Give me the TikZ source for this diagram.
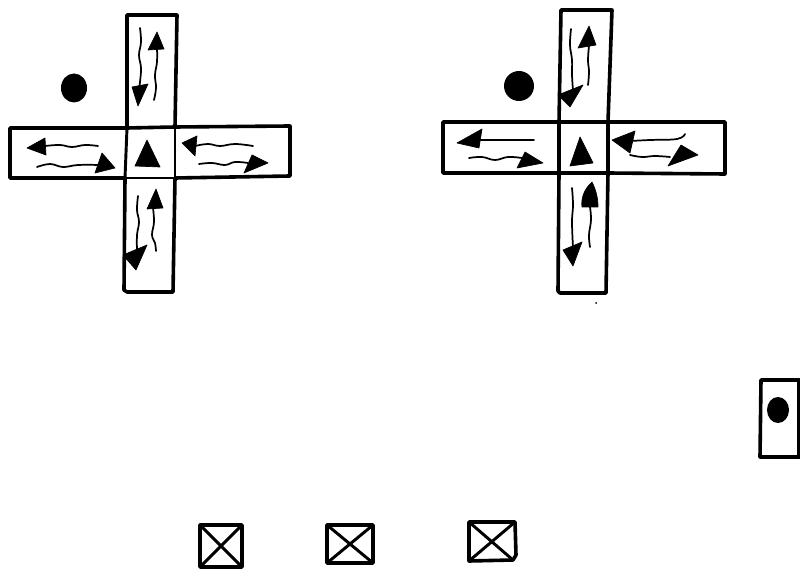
\documentclass[tikz,border=0pt]{standalone}
\tikzset{
  ink/.style={draw=black,line width=2.7pt,line cap=round,line join=round},
  cross ink/.style={draw=black,line width=2.2pt,line join=round},
  wave/.style={draw=black,line width=1.3pt,line cap=round,smooth,tension=0.7},
  head/.style={fill=black,draw=black,line width=0.5pt,line join=round},
  blob/.style={fill=black}
}
\begin{document}
\begin{tikzpicture}[x=0.75pt,y=-0.75pt]
\useasboundingbox (0,0) rectangle (800,570);
% left cross
\draw[ink] (127,128) -- (127,15) -- (177,15) -- (175,127);
\draw[ink] (127,128) -- (10,128) -- (10,178) -- (125,178) -- (124,290) -- (127,292) -- (173,292) -- (175,178) -- (290,176) -- (290,126) -- (175,127) -- cycle;
\draw[cross ink] (127,128) -- (125,178);
\draw[cross ink] (175,127) -- (175,178) -- (125,178);
\fill[blob] (74,88) ellipse (13 and 14.5);
\fill[head] (147,140) -- (135,166) -- (160,167) -- cycle;
% left cross, top arm
\draw[wave] plot coordinates {(140,28) (141,42) (139,55) (141,68) (140,82) (139,90)};
\fill[head] (138,106) -- (132,87) -- (148,84) -- cycle;
\draw[wave] plot coordinates {(154,100) (156,88) (155,75) (157,62) (157,48)};
\fill[head] (157,32) -- (148,50) -- (164,49) -- cycle;
% left cross, left arm
\fill[head] (27,148) -- (45,138) -- (46,155) -- cycle;
\draw[wave] plot coordinates {(45,146) (60,145) (72,147) (85,145) (98,146)};
\draw[wave] plot coordinates {(37,167) (50,164) (63,167) (78,165) (100,165)};
\fill[head] (115,168) -- (102,153) -- (95,173) -- cycle;
% left cross, right arm
\fill[head] (182,143) -- (197,136) -- (195,156) -- cycle;
\draw[wave] plot coordinates {(195,146) (208,144) (220,146) (235,144) (253,146)};
\draw[wave] plot coordinates {(199,164) (212,163) (225,165) (235,162) (248,163)};
\fill[head] (268,163) -- (252,155) -- (244,173) -- cycle;
% left cross, bottom arm
\fill[head] (156,189) -- (147,209) -- (163,208) -- cycle;
\draw[wave] plot coordinates {(153,208) (154,222) (152,235) (155,243) (156,251)};
\draw[wave] plot coordinates {(138,196) (137,210) (139,222) (137,235) (137,250)};
\fill[head] (136,270) -- (123,255) -- (147,245) -- cycle;
% right cross
\draw[ink] (559,122) -- (561,10) -- (612,10) -- (608,122);
\draw[ink] (559,122) -- (443,122) -- (443,173) -- (559,173) -- (558,291) -- (560,293) -- (606,293) -- (608,173) -- (725,174) -- (725,122) -- (608,122) -- cycle;
\draw[ink] (559,122) -- (559,173);
\draw[ink] (608,122) -- (608,173) -- (559,173);
\fill[blob] (519,86) circle (15);
\fill[head] (580,137) -- (570,166) -- (593,163) -- cycle;
% right cross, top arm
\draw[wave] plot coordinates {(571,29) (570,45) (572,60) (572,75) (573,90)};
\fill[head] (570,107) -- (558,95) -- (583,85) -- cycle;
\draw[wave] plot coordinates {(588,85) (589,72) (588,60) (589,46)};
\fill[head] (589,26) -- (578,48) -- (596,45) -- cycle;
% right cross, left arm
\fill[head] (457,143) -- (482,129) -- (479,148) -- cycle;
\draw[wave] (479,140) -- (534,140);
\draw[wave] plot coordinates {(469,158) (482,157) (495,160) (508,157) (522,158)};
\fill[head] (543,163) -- (525,152) -- (517,168) -- cycle;
% right cross, right arm
\fill[head] (612,140) -- (635,131) -- (630,153) -- cycle;
\draw[wave] plot coordinates {(630,141) (650,140) (677,139) (685,134)};
\draw[wave] plot coordinates {(630,155) (642,157) (655,156) (670,157)};
\fill[head] (698,155) -- (681,145) -- (668,166) -- cycle;
% right cross, bottom arm
\fill[head] (592,182) .. controls (583,190) and (581,200) .. (582,207) -- (598,207) .. controls (598,198) and (596,190) .. (592,182) -- cycle;
\draw[wave] plot coordinates {(590,207) (591,220) (589,235) (590,247)};
\draw[wave] plot coordinates {(572,188) (573,205) (572,222) (573,247)};
\fill[head] (573,266) -- (563,250) -- (582,242) -- cycle;
\fill[blob] (596,303) circle (1);
% lone box
\draw[ink] (800,380) -- (761,380) -- (760,457) -- (800,457);
\draw[ink] (799,380) -- (799,457);
\fill[blob] (778,410) ellipse (11 and 13);
% crossed squares
\draw[ink] (200,525) rectangle (242,567);
\draw[cross ink] (200,525) -- (242,567) (242,525) -- (200,567);
\draw[ink] (327,525) rectangle (373,563);
\draw[cross ink] (327,525) -- (373,563) (373,525) -- (327,563);
\draw[ink] (469,522) -- (515,522) -- (516,555) -- (513,560) -- (469,561) -- cycle;
\draw[cross ink] (469,522) -- (513,560) (515,522) -- (469,561);
\end{tikzpicture}
\end{document}
